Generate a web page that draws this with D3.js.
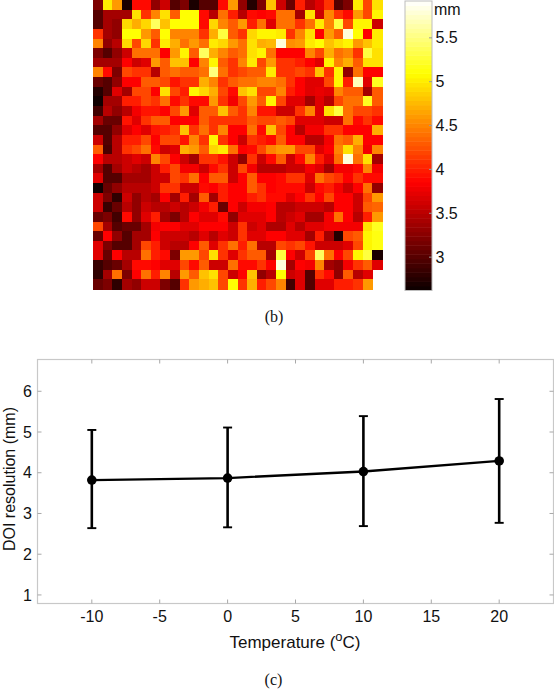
<!DOCTYPE html>
<html><head><meta charset="utf-8">
<script src="https://cdn.jsdelivr.net/npm/d3@7/dist/d3.min.js"></script>
<style>html,body{margin:0;padding:0;background:#fff}svg{display:block}text{font-family:"Liberation Sans",Arial,sans-serif;fill:#111}.serif{font-family:"Liberation Serif","Times New Roman",serif}</style>
</head><body><svg id="c" width="554" height="690"></svg>
<script>
// DOI resolution map (mm); null = no data
const heatValues = [
[3.2,5.0,4.6,2.7,3.9,3.9,3.3,3.6,3.0,3.2,2.7,3.0,3.0,3.9,4.6,3.3,2.75,3.2,4.8,3.6,3.1,4.0,3.5,3.7,4.1,3.0,3.2,5.0,4.2,4.95],
[3.0,3.4,3.4,3.4,4.95,4.1,4.5,4.95,4.3,5.1,5.1,3.9,3.5,4.4,4.0,3.5,3.9,3.85,3.9,4.4,4.4,3.4,4.95,3.6,4.5,4.1,3.9,4.6,4.2,5.05],
[3.0,3.4,3.3,4.9,4.7,4.9,5.4,4.8,5.1,5.1,5.1,3.9,4.9,4.5,4.3,4.6,4.0,4.4,3.7,4.4,4.4,4.1,4.4,5.0,4.5,5.3,4.2,5.05,5.05,3.6],
[4.1,3.4,3.3,5.1,5.1,4.6,4.3,5.1,4.5,4.5,4.5,4.1,4.7,5.3,4.3,4.1,4.9,5.05,5.05,5.0,4.1,4.5,4.95,3.85,4.6,4.3,5.8,5.1,3.85,5.0],
[4.5,3.3,3.5,4.9,4.2,4.9,4.1,5.0,4.7,4.4,4.6,4.4,5.0,4.9,4.6,4.4,4.95,4.7,4.75,5.8,4.55,4.6,5.0,5.1,4.8,4.95,5.05,4.6,4.8,5.0],
[3.2,3.0,3.3,3.6,4.4,4.4,4.4,3.85,4.6,5.05,4.3,5.4,4.7,4.5,4.3,4.4,4.95,5.05,4.4,3.85,3.85,3.85,4.5,4.2,4.7,4.4,4.5,4.1,5.3,4.95],
[3.4,3.4,3.4,3.85,3.6,3.7,4.6,4.3,4.8,4.8,3.85,4.5,5.05,4.3,4.1,4.5,5.0,4.2,4.6,4.1,4.1,4.0,3.85,3.7,5.05,4.5,4.7,4.3,4.95,4.95],
[4.5,3.9,3.2,4.2,4.1,4.1,3.5,4.3,4.4,4.3,4.3,4.4,5.5,4.4,4.1,4.2,4.3,4.3,5.0,4.1,4.1,4.2,4.1,4.8,4.1,5.05,3.3,4.4,3.85,3.85],
[3.1,3.0,3.3,3.85,3.85,4.3,4.3,4.2,3.95,4.1,4.1,4.7,4.5,4.1,4.3,4.4,4.4,4.5,4.5,4.4,4.1,3.85,3.7,3.7,4.2,5.05,4.0,5.7,3.7,5.2],
[2.75,3.0,3.7,3.4,4.2,4.2,3.85,4.95,4.2,4.0,5.05,4.9,4.7,4.2,3.9,4.8,4.95,4.2,4.2,4.5,4.0,3.85,3.7,3.75,3.7,4.5,4.3,4.3,3.4,4.3],
[2.65,3.4,3.4,4.0,4.0,4.2,4.1,4.4,3.9,4.1,3.9,3.9,4.6,4.1,3.8,4.2,4.6,4.3,5.05,4.2,3.7,3.7,3.4,3.7,3.5,4.2,4.4,4.4,5.2,4.3],
[2.9,3.5,3.3,3.5,3.8,3.95,3.95,3.85,4.2,4.6,3.7,4.3,4.3,4.8,4.3,4.1,4.5,3.95,3.95,3.6,3.6,4.1,4.5,3.7,4.95,5.3,4.4,4.2,4.2,4.1],
[3.4,3.1,3.1,3.95,3.7,4.1,4.3,4.3,3.85,3.85,3.85,4.3,4.1,4.1,4.1,4.1,4.3,4.2,4.2,4.3,4.2,3.7,3.7,3.7,3.6,3.6,4.4,3.9,4.1,3.9],
[3.0,3.0,3.3,3.7,3.85,3.7,3.95,4.0,4.1,4.8,4.1,4.4,4.1,4.5,3.85,3.85,4.4,3.9,4.8,4.2,3.85,3.5,3.8,3.8,4.1,4.1,3.85,3.85,3.85,4.7],
[3.6,3.0,3.5,4.0,4.0,4.2,3.85,4.2,4.2,3.95,4.5,4.1,5.05,4.1,3.85,3.6,4.1,4.0,3.9,4.3,3.85,3.85,3.5,3.5,3.8,4.4,4.3,4.7,3.85,3.85],
[4.3,2.95,3.5,4.1,4.2,4.4,3.9,3.6,3.7,4.7,4.6,4.3,4.9,5.0,4.4,3.85,3.9,4.2,4.5,4.6,4.6,4.2,4.2,3.7,3.85,4.5,4.95,4.5,3.8,4.5],
[3.85,3.5,3.5,3.6,3.7,3.6,4.5,4.2,3.85,3.6,3.4,4.1,4.1,3.95,3.6,3.3,4.1,3.6,3.9,4.3,3.6,3.9,4.5,4.0,3.7,4.4,5.8,4.4,4.95,3.4],
[3.4,3.0,3.4,3.6,3.5,3.4,3.6,4.0,4.2,3.8,3.8,3.6,3.9,4.1,3.6,4.2,3.8,3.5,3.5,3.5,3.6,3.6,3.8,3.7,3.4,3.8,3.8,3.9,4.5,3.8],
[3.7,3.0,3.0,3.4,3.4,3.4,3.6,3.6,4.2,4.1,4.4,3.85,4.3,4.3,3.6,3.85,4.3,3.85,3.85,3.9,4.1,4.1,3.7,4.4,4.2,4.1,3.85,4.1,3.9,3.9],
[2.65,3.1,3.3,3.5,3.5,3.5,3.6,4.1,4.1,3.6,3.6,3.9,3.85,4.0,3.85,3.85,4.3,4.1,3.85,3.9,3.9,3.9,3.6,3.9,4.0,3.8,3.6,3.85,4.4,3.3],
[3.6,3.2,2.8,3.6,3.3,3.5,3.4,3.85,3.4,4.0,3.4,4.3,3.4,4.0,3.85,3.85,4.0,4.1,3.9,3.9,3.7,3.85,4.1,3.85,4.2,3.85,3.85,3.6,4.2,4.6],
[3.6,2.85,3.1,3.5,3.3,3.6,3.5,3.5,3.6,3.5,3.6,3.8,4.0,3.1,3.85,3.6,3.8,3.8,3.85,3.5,3.5,3.6,3.6,3.6,3.5,3.85,3.85,3.6,4.3,4.35],
[3.1,3.2,2.9,3.9,3.3,3.7,4.0,3.4,3.2,3.5,3.85,3.7,3.7,3.9,3.3,3.7,3.7,3.7,3.85,3.5,3.6,3.7,3.4,3.4,3.8,4.4,3.85,3.5,4.0,4.6],
[4.2,3.4,3.0,3.1,3.1,3.4,3.8,3.85,3.85,3.7,3.7,3.85,3.85,3.85,3.6,4.1,3.6,3.7,3.45,3.45,3.7,3.5,3.7,3.7,3.8,3.8,3.8,3.8,4.95,5.2],
[3.1,3.85,3.3,3.0,3.4,3.4,3.85,3.6,3.6,3.6,3.5,3.7,3.5,3.7,3.6,4.1,3.7,3.7,3.85,3.85,3.7,3.7,3.4,4.0,3.4,2.75,4.2,4.3,5.05,5.15],
[3.7,3.2,3.0,3.0,3.4,4.2,4.0,3.6,3.5,3.5,3.85,4.3,3.7,4.1,4.4,4.0,4.4,3.5,3.5,4.2,4.1,4.2,3.95,3.6,3.6,3.6,3.7,4.2,5.05,5.15],
[3.7,3.1,3.85,3.5,3.5,4.4,4.0,3.9,3.2,4.6,4.6,4.2,4.95,4.1,3.7,4.1,4.3,4.3,3.4,5.3,3.85,3.6,4.2,5.4,4.4,3.85,4.2,5.05,5.3,2.7],
[2.85,3.0,3.1,3.4,3.9,3.9,3.85,3.7,3.7,4.2,3.9,4.3,3.6,3.6,4.4,3.9,3.9,4.1,3.85,5.8,3.4,3.85,3.8,4.5,3.4,3.3,3.8,4.1,4.3,3.7],
[2.8,3.4,4.4,3.2,3.85,4.4,4.0,4.5,3.5,4.6,4.3,4.8,4.95,4.2,3.6,3.85,4.8,3.3,3.5,5.1,3.6,3.7,3.0,4.1,3.9,3.3,4.3,3.5,3.7,null],
[3.1,3.2,2.8,3.4,3.3,3.6,3.6,3.2,3.0,4.1,4.6,4.7,4.8,4.2,5.1,4.1,4.7,4.0,4.2,4.5,2.9,3.7,3.0,3.7,3.7,4.0,4.0,4.1,4.6,null]
];
const colorDomain = [2.62, 5.92];
const colorbarTicks = [3, 3.5, 4, 4.5, 5, 5.5];

// DOI resolution vs temperature
const temperatures = [-10, 0, 10, 20];
const doiMean = [3.82, 3.87, 4.03, 4.29];
const doiHigh = [5.05, 5.11, 5.39, 5.81];
const doiLow = [2.64, 2.66, 2.69, 2.77];
const xTicks = [-10, -5, 0, 5, 10, 15, 20];
const yTicks = [1, 2, 3, 4, 5, 6];

const svg = d3.select("#c");

// MATLAB "hot" colormap
const t = d3.scaleLinear().domain(colorDomain).range([0, 1]);
const hot = d3.scaleLinear().domain([0, 0.375, 0.75, 1])
  .range(["#0a0000", "#ff0000", "#ffff00", "#ffffff"]).clamp(true);
const color = v => hot(t(v));

// Heat map
const idx = d3.range(30);
const hx = d3.scaleBand().domain(idx).range([93, 382]);
const hy = d3.scaleBand().domain(idx).range([0, 289]);
const cells = heatValues.flatMap((row, r) => row.map((v, c) => ({r, c, v}))).filter(d => d.v !== null);
svg.append("g").attr("shape-rendering", "crispEdges").selectAll("rect").data(cells).join("rect")
  .attr("x", d => hx(d.c)).attr("y", d => hy(d.r))
  .attr("width", hx.bandwidth() + 0.5).attr("height", hy.bandwidth() + 0.5)
  .attr("fill", d => color(d.v));

// Colorbar
const cbY = d3.scaleLinear().domain(colorDomain).range([290.5, 1]);
const cbX0 = 405, cbX1 = 432;
const cbSteps = d3.range(0, 64);
const cb = svg.append("g");
cb.selectAll("rect").data(cbSteps).join("rect")
  .attr("x", cbX0).attr("width", cbX1 - cbX0)
  .attr("y", i => cbY(colorDomain[0] + (i + 1) / 64 * (colorDomain[1] - colorDomain[0])))
  .attr("height", (cbY.range()[0] - cbY.range()[1]) / 64 + 0.5)
  .attr("fill", i => hot((i + 0.5) / 64));
cb.append("rect").attr("x", cbX0).attr("y", 1).attr("width", cbX1 - cbX0).attr("height", 289.5)
  .attr("fill", "none").attr("stroke", "#bdbdbd").attr("stroke-width", 1);
cb.selectAll(".tl").data(colorbarTicks).join("line").attr("class", "tl")
  .attr("x1", cbX1 - 3).attr("x2", cbX1).attr("y1", cbY).attr("y2", cbY).attr("stroke", "#999");
cb.selectAll("text.v").data(colorbarTicks).join("text").attr("class", "v")
  .attr("x", 435.5).attr("y", d => cbY(d) + 5.5).attr("font-size", 16).text(d => d);
cb.append("text").attr("x", 434).attr("y", 14.5).attr("font-size", 16).text("mm");

svg.append("text").attr("class", "serif").attr("x", 274).attr("y", 322)
  .attr("text-anchor", "middle").attr("font-size", 16).text("(b)");

// Line chart
const L = 37.5, R = 553.5, T = 359.5, B = 603.5;
const x = d3.scaleLinear().domain([-14, 24]).range([L, R]);
const y = d3.scaleLinear().domain([0.79, 6.78]).range([B, T]);
const g = svg.append("g");
g.append("rect").attr("x", L).attr("y", T).attr("width", R - L).attr("height", B - T)
  .attr("fill", "none").attr("stroke", "#c8c8c8").attr("stroke-width", 1.2);

const axisColor = "#a8a8a8";
g.append("g").selectAll("line").data(xTicks).join("line")
  .attr("x1", x).attr("x2", x).attr("y1", B).attr("y2", B - 4).attr("stroke", axisColor);
g.append("g").selectAll("line").data(xTicks).join("line")
  .attr("x1", x).attr("x2", x).attr("y1", T).attr("y2", T + 4).attr("stroke", axisColor);
g.append("g").selectAll("line").data(yTicks).join("line")
  .attr("y1", y).attr("y2", y).attr("x1", L).attr("x2", L + 4).attr("stroke", axisColor);
g.append("g").selectAll("line").data(yTicks).join("line")
  .attr("y1", y).attr("y2", y).attr("x1", R).attr("x2", R - 4).attr("stroke", axisColor);

g.selectAll("text.xt").data(xTicks).join("text").attr("class", "xt")
  .attr("x", x).attr("y", 622).attr("text-anchor", "middle").attr("font-size", 16).text(d => d);
g.selectAll("text.yt").data(yTicks).join("text").attr("class", "yt")
  .attr("x", 32).attr("y", d => y(d) + 5.7).attr("text-anchor", "end").attr("font-size", 16).text(d => d);

const pts = temperatures.map((tv, i) => ({tv, m: doiMean[i], hi: doiHigh[i], lo: doiLow[i]}));
const ink = "#000";
pts.forEach(p => {
  const px = x(p.tv);
  g.append("line").attr("x1", px).attr("x2", px).attr("y1", y(p.hi)).attr("y2", y(p.lo)).attr("stroke", ink).attr("stroke-width", 2.6);
  [p.hi, p.lo].forEach(v => g.append("line").attr("x1", px - 4.5).attr("x2", px + 4.5).attr("y1", y(v)).attr("y2", y(v)).attr("stroke", ink).attr("stroke-width", 1.9));
});
g.append("path").datum(pts).attr("fill", "none").attr("stroke", ink).attr("stroke-width", 2.3)
  .attr("d", d3.line().x(d => x(d.tv)).y(d => y(d.m)));
g.selectAll("circle").data(pts).join("circle").attr("cx", d => x(d.tv)).attr("cy", d => y(d.m)).attr("r", 4.8).attr("fill", ink);

const xl = g.append("text").attr("x", 295).attr("y", 648).attr("text-anchor", "middle").attr("font-size", 17);
xl.append("tspan").text("Temperature (");
xl.append("tspan").attr("dy", -7).attr("font-size", 13).text("o");
xl.append("tspan").attr("dy", 7).text("C)");
g.append("text").attr("transform", "translate(14.5,479) rotate(-90)").attr("text-anchor", "middle").attr("font-size", 16).text("DOI resolution (mm)");

svg.append("text").attr("class", "serif").attr("x", 273.5).attr("y", 685)
  .attr("text-anchor", "middle").attr("font-size", 16).text("(c)");
</script></body></html>
